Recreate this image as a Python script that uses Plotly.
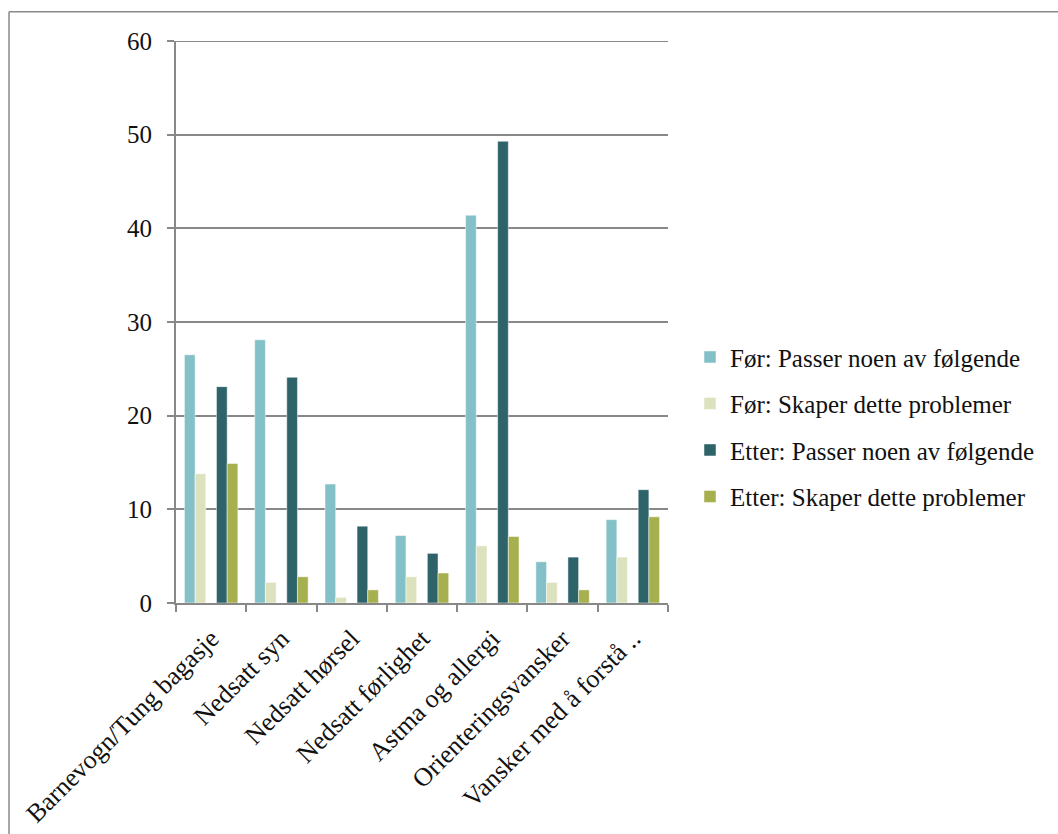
import plotly.graph_objects as go

categories = ["Barnevogn/Tung bagasje", "Nedsatt syn", "Nedsatt hørsel", "Nedsatt førlighet",
              "Astma og allergi", "Orienteringsvansker", "Vansker med å forstå .."]
series_names = ["Før: Passer noen av følgende", "Før: Skaper dette problemer",
                "Etter: Passer noen av følgende", "Etter: Skaper dette problemer"]
for_passer = [26.5, 28.1, 12.7, 7.2, 41.4, 4.4, 8.9]
for_skaper = [13.8, 2.2, 0.6, 2.8, 6.1, 2.2, 4.9]
etter_passer = [23.1, 24.1, 8.2, 5.3, 49.3, 4.9, 12.1]
etter_skaper = [14.9, 2.8, 1.4, 3.2, 7.1, 1.4, 9.2]
y_ticks = [0, 10, 20, 30, 40, 50, 60]

values = [for_passer, for_skaper, etter_passer, etter_skaper]
colors = ["#84C0C8", "#DDE2BE", "#2E6369", "#A7B04F"]
offsets = [-0.38, -0.228, 0.076, 0.228]
bw = 0.152

W, H = 1058, 834
L, R, T, B = 176, 668, 41.3, 603.3
FONT = "'Liberation Serif', 'Times New Roman', 'DejaVu Serif', serif"

fig = go.Figure()
for i, (name, vals) in enumerate(zip(series_names, values)):
    fig.add_trace(go.Bar(
        x=categories, y=vals, name=name,
        marker=dict(color=colors[i], line=dict(color="rgba(255,255,255,0.6)", width=0.8)),
        offset=offsets[i], width=bw, legendgroup=f"g{i}",
    ))

def px_x(p):
    return (p - L) / (R - L)

def px_y(p):
    return (B - p) / (B - T)

fig.update_layout(
    width=W, height=H,
    margin=dict(l=L, r=W - R, t=T, b=H - B, pad=0, autoexpand=False),
    paper_bgcolor="white", plot_bgcolor="white",
    font=dict(family=FONT, size=25, color="#111111"),
    showlegend=True,
    legend=dict(x=px_x(690), y=px_y(427), xanchor="left", yanchor="middle",
                traceorder="grouped", tracegroupgap=11,
                font=dict(family=FONT, size=25, color="#111111"),
                bgcolor="rgba(0,0,0,0)"),
    xaxis=dict(type="category", showgrid=False, showline=True, linecolor="#888888", linewidth=2,
               ticks="outside", ticklen=7, tickwidth=2, tickcolor="#888888", tickson="boundaries",
               tickangle=-45, tickfont=dict(family=FONT, size=26, color="#111111"),
               ticklabelstandoff=8, automargin=False),
    yaxis=dict(range=[0, 60], tickvals=y_ticks, showgrid=True, gridcolor="#888888", gridwidth=2,
               showline=True, linecolor="#888888", linewidth=2, zeroline=False,
               ticks="outside", ticklen=7, tickwidth=2, tickcolor="#888888",
               tickfont=dict(family=FONT, size=25, color="#111111"), ticklabelstandoff=10,
               automargin=False),
    shapes=[
        dict(type="line", xref="paper", yref="y", x0=0, x1=1, y0=y_ticks[-1], y1=y_ticks[-1],
             line=dict(color="#888888", width=2), layer="below"),
        dict(type="line", xref="paper", yref="paper", x0=px_x(9), x1=px_x(9), y0=px_y(12), y1=px_y(840),
             line=dict(color="#8a8a8a", width=1.5)),
        dict(type="line", xref="paper", yref="paper", x0=px_x(9), x1=px_x(1065), y0=px_y(12), y1=px_y(12),
             line=dict(color="#8a8a8a", width=1.5)),
    ],
)

fig.write_html("out.html")
